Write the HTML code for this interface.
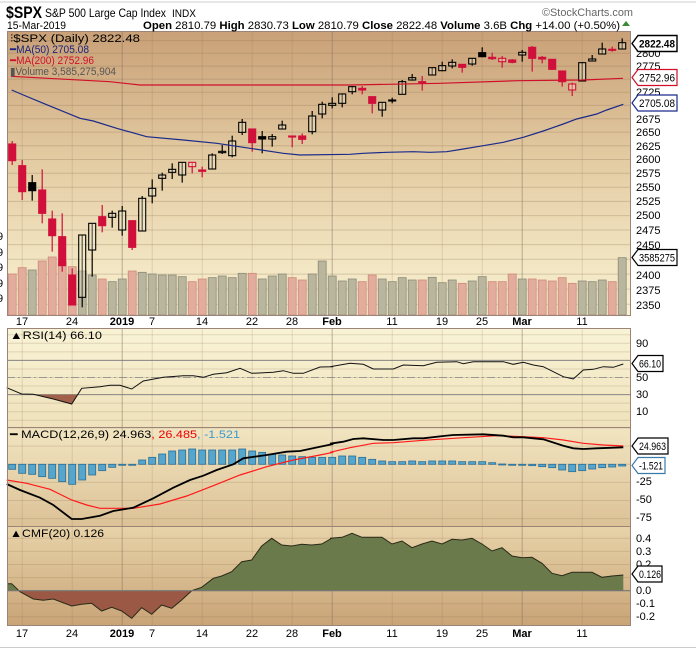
<!DOCTYPE html>
<html><head><meta charset="utf-8"><style>
html,body{margin:0;padding:0;background:#fff;width:696px;height:652px;overflow:hidden}
svg{display:block;font-family:"Liberation Sans",sans-serif}
</style></head><body>
<svg id="s" width="696" height="652" viewBox="0 0 696 652" xmlns="http://www.w3.org/2000/svg">
<defs>
<linearGradient id="gm" x1="0" y1="0" x2="0" y2="1"><stop offset="0" stop-color="#c9a077"/><stop offset="0.45" stop-color="#e3cba2"/><stop offset="1" stop-color="#f9f2d2"/></linearGradient>
<linearGradient id="gr" x1="0" y1="0" x2="0" y2="1"><stop offset="0" stop-color="#f9f3d6"/><stop offset="1" stop-color="#efe2bb"/></linearGradient>
<linearGradient id="gd" x1="0" y1="0" x2="0" y2="1"><stop offset="0" stop-color="#f1e5c1"/><stop offset="1" stop-color="#dcc196"/></linearGradient>
<linearGradient id="gc" x1="0" y1="0" x2="0" y2="1"><stop offset="0" stop-color="#e8d3a9"/><stop offset="1" stop-color="#c9a477"/></linearGradient>
<clipPath id="cUp"><rect x="7" y="526" width="624" height="64.7"/></clipPath>
<clipPath id="cDn"><rect x="7" y="590.7" width="624" height="40"/></clipPath>
<clipPath id="cRsi"><rect x="7" y="394.6" width="624" height="40"/></clipPath>
</defs>
<line x1="0" y1="2" x2="696" y2="2" stroke="#ccc"/>
<rect x="7" y="31" width="624" height="284" fill="url(#gm)"/>
<rect x="7" y="328" width="624" height="99" fill="url(#gr)"/>
<rect x="7" y="427" width="624" height="99" fill="url(#gd)"/>
<rect x="7" y="526" width="624" height="99" fill="url(#gc)"/>
<g id="grid"></g>
<g id="plot"></g>
<g fill="none" stroke="#9c8478" stroke-width="1">
<rect x="7.5" y="31.5" width="623" height="594"/>
<line x1="7" y1="315.5" x2="631" y2="315.5"/>
<line x1="7" y1="328.5" x2="631" y2="328.5"/>
<line x1="7" y1="427.5" x2="631" y2="427.5"/>
<line x1="7" y1="526.5" x2="631" y2="526.5"/>
</g>
<rect x="7" y="316" width="624" height="12" fill="#fff"/>
<line x1="0" y1="647.5" x2="696" y2="647.5" stroke="#ccc"/>
<text x="6" y="18" font-size="17" font-weight="bold" textLength="36" lengthAdjust="spacingAndGlyphs">$SPX</text>
<text x="45" y="17" font-size="12" textLength="121" lengthAdjust="spacingAndGlyphs">S&amp;P 500 Large Cap Index</text>
<text x="172" y="17" font-size="11" textLength="24" lengthAdjust="spacingAndGlyphs">INDX</text>
<text x="546" y="16" font-size="11" fill="#666" textLength="755" lengthAdjust="spacingAndGlyphs" style="display:none">x</text>
<text x="542" y="16" font-size="11" fill="#666" textLength="91" lengthAdjust="spacingAndGlyphs">©StockCharts.com</text>
<text x="7" y="29" font-size="11" textLength="59" lengthAdjust="spacingAndGlyphs">15-Mar-2019</text>
<text x="143" y="29" font-size="11" textLength="477" lengthAdjust="spacingAndGlyphs"><tspan font-weight="bold">Open</tspan> 2810.79  <tspan font-weight="bold">High</tspan> 2830.73  <tspan font-weight="bold">Low</tspan> 2810.79  <tspan font-weight="bold">Close</tspan> 2822.48  <tspan font-weight="bold">Volume</tspan> 3.6B  <tspan font-weight="bold">Chg</tspan> +14.00 (+0.50%)</text>
<polygon points="622,26 626,21 630,26" fill="#3a8a3a"/>
<g font-size="11">
<text x="10" y="42" fill="#000" textLength="130" lengthAdjust="spacingAndGlyphs">⫶$SPX (Daily) 2822.48</text>
<text x="10" y="53" fill="#1a237e" textLength="79" lengthAdjust="spacingAndGlyphs">━MA(50) 2705.08</text>
<text x="10" y="64" fill="#d0102a" textLength="84" lengthAdjust="spacingAndGlyphs">━MA(200) 2752.96</text>
<text x="10" y="75" fill="#555" textLength="106" lengthAdjust="spacingAndGlyphs">▮Volume 3,585,275,904</text>
<text x="10" y="339" textLength="92" lengthAdjust="spacingAndGlyphs">▲RSI(14) 66.10</text>
<text x="10" y="438" textLength="230" lengthAdjust="spacingAndGlyphs">━ MACD(12,26,9) 24.963<tspan fill="#e00">, 26.485</tspan><tspan fill="#3a9ad0">, -1.521</tspan></text>
<text x="10" y="537" textLength="94" lengthAdjust="spacingAndGlyphs">▲CMF(20) 0.126</text>
</g>
<g font-size="11" id="axis">
<text x="-3" y="240">9</text><text x="-3" y="256">9</text><text x="-3" y="271">9</text><text x="-3" y="287">9</text><text x="-3" y="302">9</text>
<text x="636" y="347">90</text><text x="636" y="381">50</text><text x="636" y="398">30</text><text x="636" y="415">10</text>
<text x="636" y="485">-25</text><text x="636" y="503">-50</text><text x="636" y="521">-75</text>
<text x="636" y="542">0.4</text><text x="636" y="555">0.3</text><text x="636" y="568">0.2</text><text x="636" y="594">0.0</text><text x="636" y="607">-0.1</text><text x="636" y="620">-0.2</text>
</g>
<g font-size="11" text-anchor="middle" id="xl">
<text x="22" y="325">17</text><text x="72" y="325">24</text><text x="122" y="325" font-weight="bold">2019</text><text x="152" y="325">7</text><text x="202" y="325">14</text><text x="252" y="325">22</text><text x="292" y="325">28</text><text x="332" y="325" font-weight="bold">Feb</text><text x="392" y="325">11</text><text x="442" y="325">19</text><text x="482" y="325">25</text><text x="522" y="325" font-weight="bold">Mar</text><text x="582" y="325">11</text>
<text x="22" y="637">17</text><text x="72" y="637">24</text><text x="122" y="637" font-weight="bold">2019</text><text x="152" y="637">7</text><text x="202" y="637">14</text><text x="252" y="637">22</text><text x="292" y="637">28</text><text x="332" y="637" font-weight="bold">Feb</text><text x="392" y="637">11</text><text x="442" y="637">19</text><text x="482" y="637">25</text><text x="522" y="637" font-weight="bold">Mar</text><text x="582" y="637">11</text>
</g>
<g font-size="11" id="pl">
<text x="636" y="57">2800</text><text x="636" y="70">2775</text><text x="636" y="96">2725</text><text x="636" y="123">2675</text><text x="636" y="136">2650</text><text x="636" y="150">2625</text><text x="636" y="163">2600</text><text x="636" y="177">2575</text><text x="636" y="191">2550</text><text x="636" y="205">2525</text><text x="636" y="219">2500</text><text x="636" y="234">2475</text><text x="636" y="249">2450</text><text x="636" y="279">2400</text><text x="636" y="294">2375</text><text x="636" y="309">2350</text>
</g>
<g id="tags"></g>
<g font-size="11">
<text x="639" y="47.5" font-weight="bold" textLength="36" lengthAdjust="spacingAndGlyphs">2822.48</text>
<text x="639" y="81.5" textLength="36" lengthAdjust="spacingAndGlyphs">2752.96</text>
<text x="639" y="107" textLength="36" lengthAdjust="spacingAndGlyphs">2705.08</text>
<text x="639" y="261.5" textLength="36" lengthAdjust="spacingAndGlyphs">3585275</text>
<text x="639" y="367.5" textLength="22" lengthAdjust="spacingAndGlyphs">66.10</text>
<text x="639" y="450" textLength="27" lengthAdjust="spacingAndGlyphs">24.963</text>
<text x="639" y="469.5" textLength="24" lengthAdjust="spacingAndGlyphs">-1.521</text>
<text x="639" y="578" textLength="22" lengthAdjust="spacingAndGlyphs">0.126</text>
</g>
</svg>
<script>
(function(){
var NS="http://www.w3.org/2000/svg";
function el(p,n,a){var e=document.createElementNS(NS,n);for(var k in a)e.setAttribute(k,a[k]);p.appendChild(e);return e;}
var G=document.getElementById('grid'),P=document.getElementById('plot'),T=document.getElementById('tags');
function X(i){return 11.7+10*i;}
function py(p){return 53.3+1432.6*Math.log(2800/p);}
for(var p=2350;p<=2825;p+=25){var y=py(p);if(y>31&&y<315)el(G,'line',{x1:7,x2:631,y1:y,y2:y,stroke:'rgba(140,110,80,0.28)'});}
for(var v=0;v<=100;v+=10){var y=411.7+(10-v)*0.855;if(y>328&&y<427)el(G,'line',{x1:7,x2:631,y1:y,y2:y,stroke:'rgba(140,110,80,0.22)'});}
[[70,'#888',''],[30,'#888',''],[50,'#999','8,3,2,3']].forEach(function(a){var y=411.7+(10-a[0])*0.855;el(G,'line',{x1:7,x2:631,y1:y,y2:y,stroke:a[1],'stroke-dasharray':a[2]});});
for(var v=-75;v<=50;v+=25){var y=464.3-v*0.725;if(y>427&&y<526)el(G,'line',{x1:7,x2:631,y1:y,y2:y,stroke:'rgba(140,110,80,0.22)'});}
for(var v=-0.2;v<=0.45;v+=0.1){var y=590.7-v*131;el(G,'line',{x1:7,x2:631,y1:y,y2:y,stroke:'rgba(140,110,80,0.22)'});}
[1,6,11,14,19,24,28,32,38,43,47,51,57].forEach(function(i){var m=(i==11||i==32||i==51);el(G,'line',{x1:X(i)+0.5,x2:X(i)+0.5,y1:31,y2:625,stroke:m?'rgba(130,110,100,0.5)':'rgba(140,110,80,0.2)'});});
var C=[["r",423,432,482,495],["r",480,497,575,600],["k",525,548,572,602],["r",508,570,640,670],["r",632,657,707,755],["r",640,710,797,815],["r",805,825,915,915],["h",705,705,892,922],["h",670,670,750,830],["r",615,650,677,697],["h",632,640,652,683],["h",618,633,690,707],["r",662,662,742,750],["h",588,595,693,693],["h",538,565,588,610],["h",518,525,535,572],["h",490,508,517,537],["h",487,487,525,548],["H",487,487,500,520],["r",500,510,514,532],["h",460,465,507,507],["h",435,454,458,462],["h",407,423,467,472],["h",357,367,397,405],["r",387,387,428,455],["k",393,410,417,460],["h",402,410,417,440],["h",362,375,387,387],["r",408,408,411,442],["r",400,408,418,432],["h",333,348,395,403],["h",305,313,342,355],["h",292,310,316,325],["h",280,282,310,322],["h",258,260,275,283],["r",258,265,270,283],["r",290,290,310,340],["h",307,307,330,350],["k",293,300,303,310],["h",240,245,283,283],["h",222,233,240,242],["r",228,245,248,272],["h",203,203,225,225],["h",185,197,212,214],["h",178,187,198,205],["r",193,193,202,218],["h",175,175,192,197],["k",142,158,170,172],["r",158,172,176,180],["H",168,175,185,203],["r",177,180,187,190],["h",150,157,165,185],["r",138,142,175,215],["r",168,172,177,190],["r",178,178,208,210],["r",213,213,245,260],["H",248,252,270,288],["h",186,188,243,243],["h",165,177,183,183],["h",128,147,162,162],["r",140,148,151,155],["h",115,128,147,147]];
var V=[822,803,810,783,771,785,800,813,825,837,845,837,813,817,822,825,825,830,845,837,833,828,833,820,820,837,828,822,833,840,822,783,828,843,837,845,825,837,845,833,840,840,832,848,840,850,843,830,845,845,822,837,837,840,843,833,850,843,845,840,845,773];
for(var i=0;i<62;i++){var t=C[i][0],red=(t=='r'||t=='H');var y=V[i]/3;
el(P,'rect',{x:X(i)-3.5,y:y,width:8,height:315-y,fill:red?'#e2ad9c':'#bab69e',stroke:red?'#cf8a78':'#8c8a78','stroke-width':0.8});}
for(var i=0;i<62;i++){var c=C[i],t=c[0],col=(t=='r'||t=='H')?'#d0103a':'#000',x=X(i)+0.5;
el(P,'line',{x1:x,x2:x,y1:c[1]/3,y2:c[4]/3,stroke:col,'stroke-width':1.2});
var h=Math.max(1,(c[3]-c[2])/3);var filled=(t=='r'||t=='k');
el(P,'rect',{x:X(i)-3,y:c[2]/3,width:7,height:h,fill:filled?col:'rgba(250,240,210,0.35)',stroke:col,'stroke-width':1.1});}
function cv(a,ox,oy){return a.map(function(p){return [p[0]/3+ox,p[1]/3+oy];});}
function pl(pts,col,w){return el(P,'polyline',{points:pts.map(function(p){return p[0].toFixed(1)+','+p[1].toFixed(1);}).join(' '),fill:'none',stroke:col,'stroke-width':w});}
pl([[11,76.3],[110,81.7],[140,85],[350,85],[440,83.3],[517,80.7],[583,80],[623,78.3]],'#d0102a',1.2);
pl(cv([[35,270],[70,285],[130,310],[240,355],[280,363],[350,385],[440,410],[550,420],[650,430],[750,445],[850,460],[900,465],[1050,463]],0,0).concat(cv([[100,460],[170,457],[250,455],[300,457],[350,455],[400,447],[460,437],[520,427],[580,412],[640,393],[700,372],[740,357],[800,342],[830,330],[880,313]],330,0)),'#1a2a8a',1.2);
var rsi=cv([[20,188],[65,207],[100,208],[160,222],[215,237],[245,190],[300,185],[330,181],[360,181],[395,192],[430,168],[490,157],[550,152],[580,152],[610,157],[640,148],[680,143],[720,130],[755,145],[820,142],[850,137],[880,145],[910,145],[960,126],[1000,125]],0,325).concat(cv([[0,125],[30,120],[60,115],[100,118],[130,132],[190,132],[220,120],[280,122],[320,112],[380,110],[400,116],[430,110],[520,110],[550,118],[580,112],[610,120],[640,125],[700,155],[730,162],[760,135],[790,133],[820,125],[850,127],[880,117]],330,325));
var rp=rsi.slice(0,8);var poly=[[rp[0][0],394.6]].concat(rp).concat([[rp[rp.length-1][0],394.6]]);
el(P,'polygon',{points:poly.map(function(p){return p.join(',');}).join(' '),fill:'#a0604a','clip-path':'url(#cRsi)'});
pl(rsi,'#111',1);
var Hh=[433,445,448,455,460,470,478,465,450,437,427,419,418,405,397,387,378,375,372,375,375,375,375,372,378,382,387,390,393,395,397,397,397,393,393,397,403,408,410,410,408,410,408,408,408,410,410,410,413,417,418,418,422,425,428,435,440,437,432,428,426,423];
for(var i=0;i<62;i++){var y=Hh[i]/3+325,z=464.3;var t=Math.min(y,z),h=Math.max(1,Math.abs(y-z));
el(P,'rect',{x:X(i)-3,y:t,width:7,height:h,fill:'#55a5cc',stroke:'#2c6f98','stroke-width':0.8});}
pl(cv([[20,465],[80,475],[150,493],[215,525],[260,540],[300,550],[400,550],[480,537],[560,513],[640,482],[720,450],[800,425],[880,405],[960,390],[1000,382]],0,325).concat(cv([[0,382],[60,368],[130,355],[190,353],[280,346],[400,338],[500,332],[580,335],[640,338],[700,345],[760,355],[820,360],[880,363]],330,325)),'#ff1a1a',1.2);
pl(cv([[20,477],[60,495],[120,518],[160,540],[215,582],[245,582],[300,572],[340,558],[400,548],[460,520],[520,488],[570,465],[610,452],[650,435],[700,418],[730,400],[800,390],[860,380],[900,378],[960,365],[1000,357]],0,325).concat(cv([[0,356],[40,350],[70,342],[100,340],[160,345],[190,345],[250,340],[280,340],[340,333],[370,330],[460,328],[520,332],[550,337],[580,337],[640,343],[700,362],[730,370],[760,372],[800,370],[880,367]],330,325)),'#000',1.8);
var cm=cv([[22,776],[35,776],[60,800],[100,822],[130,826],[160,822],[215,843],[245,838],[275,835],[305,858],[335,847],[365,858],[395,880],[425,848],[455,868],[485,840],[515,850],[545,825],[575,797],[605,787],[640,760],[665,753],[695,740],[725,710],[755,705],[785,663],[815,640],[845,660],[875,663],[905,658],[935,660],[965,657],[995,640]],0,325).concat(cv([[0,640],[36,637],[66,625],[96,637],[126,637],[156,637],[186,657],[216,648],[246,668],[276,657],[306,648],[336,657],[366,643],[396,645],[426,640],[456,657],[486,678],[516,668],[546,693],[576,698],[606,697],[636,715],[666,745],[696,752],[726,742],[756,742],[786,742],[816,757],[846,753],[880,750]],330,325));
var cp=[[7,590.7],[7,cm[0][1]]].concat(cm).concat([[cm[cm.length-1][0],590.7]]);var cs=cp.map(function(p){return p[0].toFixed(1)+','+p[1].toFixed(1);}).join(' ');
el(P,'polygon',{points:cs,fill:'#6b7a4b','clip-path':'url(#cUp)'});
el(P,'polygon',{points:cs,fill:'#9a5845','clip-path':'url(#cDn)'});
pl([[7,cm[0][1]]].concat(cm),'#2a2a18',1);
el(P,'line',{x1:7,x2:631,y1:590.7,y2:590.7,stroke:'#777','stroke-width':1.2});
function tag(y,x1,col,bw){el(T,'polygon',{points:[[632,y],[638,y-8],[x1,y-8],[x1,y+8],[638,y+8]].map(function(p){return p.join(',');}).join(' '),fill:'#fff',stroke:col,'stroke-width':bw||1.2});}
tag(43.5,677,'#000',1.4);tag(77.5,677,'#d0102a');tag(103,677,'#1a2a8a');tag(257.5,677,'#000');tag(363.5,663,'#000');tag(446,668,'#000');tag(465.5,665,'#3a7aaa');tag(574,662,'#000');
})();
</script>
</body></html>
